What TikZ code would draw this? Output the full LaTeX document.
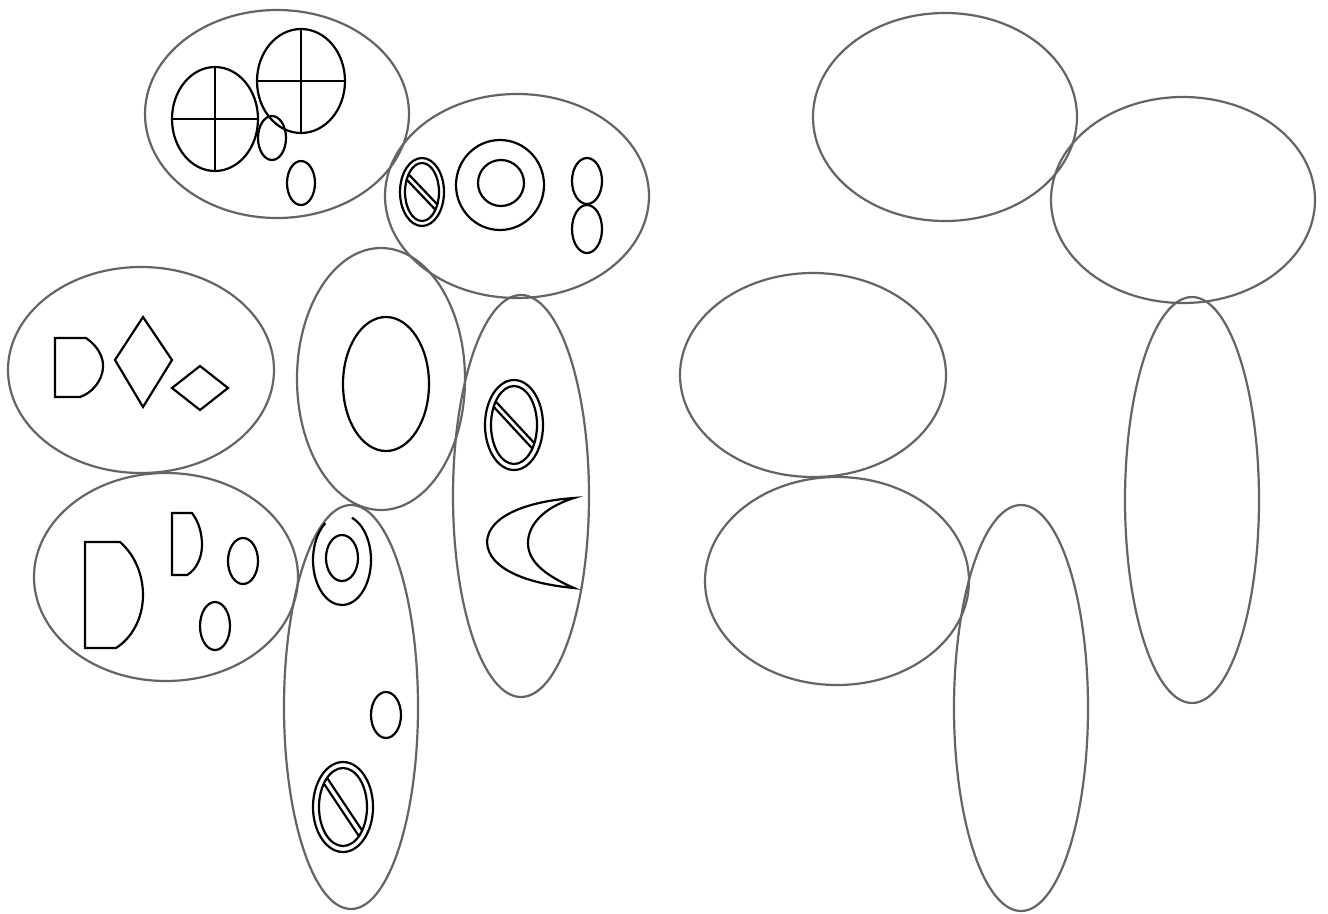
\documentclass[tikz,border=0pt]{standalone}
\definecolor{rimgray}{RGB}{100,100,100}
\tikzset{
  rim/.style={draw=rimgray, line width=2.2pt},
  ink/.style={draw=black, line width=2.2pt},
}
\newcommand\hatchsym[6]{% cx cy rx ry slope inset
  \begin{scope}[shift={(#1,#2)}]
    \draw[ink] (0,0) ellipse [x radius=#3pt, y radius=#4pt];
    \draw[ink] (0,0) ellipse [x radius=#3pt-#6pt, y radius=#4pt-#6pt];
    \begin{scope}
      \clip (0,0) ellipse [x radius=#3pt-#6pt, y radius=#4pt-#6pt];
      \draw[ink] (-56.5,-60*#5) -- (63.5,60*#5);
      \draw[ink] (-63.5,-60*#5) -- (56.5,60*#5);
    \end{scope}
  \end{scope}}
\newcommand\crosssym[4]{% cx cy rx ry
  \draw[ink] (#1,#2) ellipse [x radius=#3pt, y radius=#4pt];
  \draw[ink] (#1-#3,#2) -- (#1+#3,#2);
  \draw[ink] (#1,#2-#4) -- (#1,#2+#4);}
\begin{document}
\begin{tikzpicture}[x=1pt,y=-1pt]
\useasboundingbox[fill=white] (0,0) rectangle (1328,913);

% ---------- left group: containers ----------
\draw[rim] (277,114) ellipse [x radius=132pt, y radius=104pt];
\draw[rim] (517,196) ellipse [x radius=132pt, y radius=102pt];
\draw[rim] (141,370) ellipse [x radius=133pt, y radius=103pt];
\draw[rim] (381,379) ellipse [x radius=84pt, y radius=131pt];
\draw[rim] (166,577) ellipse [x radius=132pt, y radius=104pt];
\draw[rim] (351,707) ellipse [x radius=67pt, y radius=202pt];
\draw[rim] (521,496) ellipse [x radius=68pt, y radius=201pt];

% ---------- top ellipse contents ----------
\crosssym{215}{119}{43}{52}
\crosssym{301}{81}{44}{52}
\draw[ink] (272,138) ellipse [x radius=14pt, y radius=22pt];
\draw[ink] (301,183) ellipse [x radius=14pt, y radius=22pt];

% ---------- upper right ellipse contents ----------
\hatchsym{422}{192}{22}{34}{1.05}{5}
\draw[ink] (500,185) ellipse [x radius=44pt, y radius=45pt];
\draw[ink] (501,183) ellipse [x radius=23pt, y radius=23pt];
\draw[ink] (587,181) ellipse [x radius=15pt, y radius=23pt];
\draw[ink] (587,229) ellipse [x radius=15pt, y radius=24pt];

% ---------- left middle ellipse contents ----------
\draw[ink] (55,338) -- (86,338) .. controls (98,346) and (104,358) .. (103,368)
  .. controls (102,381) and (92,393) .. (80,397) -- (55,397) -- cycle;
\draw[ink] (143,317) -- (172,360) -- (143,407) -- (115,360) -- cycle;
\draw[ink] (200,366) -- (228,388) -- (200,410) -- (172,388) -- cycle;

% ---------- centre ellipse contents ----------
\draw[ink] (386,384) ellipse [x radius=43pt, y radius=67pt];

% ---------- bottom left ellipse contents ----------
\draw[ink] (85,542) -- (120,542) .. controls (135,555) and (143,575) .. (143,595)
  .. controls (143,618) and (132,638) .. (116,648) -- (85,648) -- cycle;
\draw[ink] (172,513) -- (192,513) .. controls (199,522) and (202,534) .. (202,545)
  .. controls (202,558) and (196,570) .. (187,575) -- (172,575) -- cycle;
\draw[ink] (243,561) ellipse [x radius=15pt, y radius=23pt];
\draw[ink] (215,626) ellipse [x radius=15pt, y radius=24pt];

% ---------- bottom tall ellipse contents ----------
\draw[ink] (342,560) ++(125:29pt and 45pt) arc [start angle=125, end angle=430, x radius=29pt, y radius=45pt];
\draw[ink] (342,558) ellipse [x radius=16pt, y radius=23pt];
\draw[ink] (386,715) ellipse [x radius=15pt, y radius=23pt];
\hatchsym{343}{807}{30}{45}{1.5}{6}

% ---------- right tall ellipse contents ----------
\hatchsym{514}{425}{29}{45}{1.08}{6}
\draw[ink] (574,498) .. controls (530,501) and (488,515) .. (487,542)
  .. controls (488,570) and (530,584) .. (574,588)
  .. controls (542,574) and (528,560) .. (528,543)
  .. controls (528,526) and (542,508) .. (574,498) -- cycle;

% ---------- right group: empty containers ----------
\draw[rim] (945,117) ellipse [x radius=132pt, y radius=104pt];
\draw[rim] (1183,200) ellipse [x radius=132pt, y radius=103pt];
\draw[rim] (813,375) ellipse [x radius=133pt, y radius=102pt];
\draw[rim] (1192,500) ellipse [x radius=67pt, y radius=203pt];
\draw[rim] (837,581) ellipse [x radius=132pt, y radius=104pt];
\draw[rim] (1021,708) ellipse [x radius=67pt, y radius=203pt];
\end{tikzpicture}
\end{document}
